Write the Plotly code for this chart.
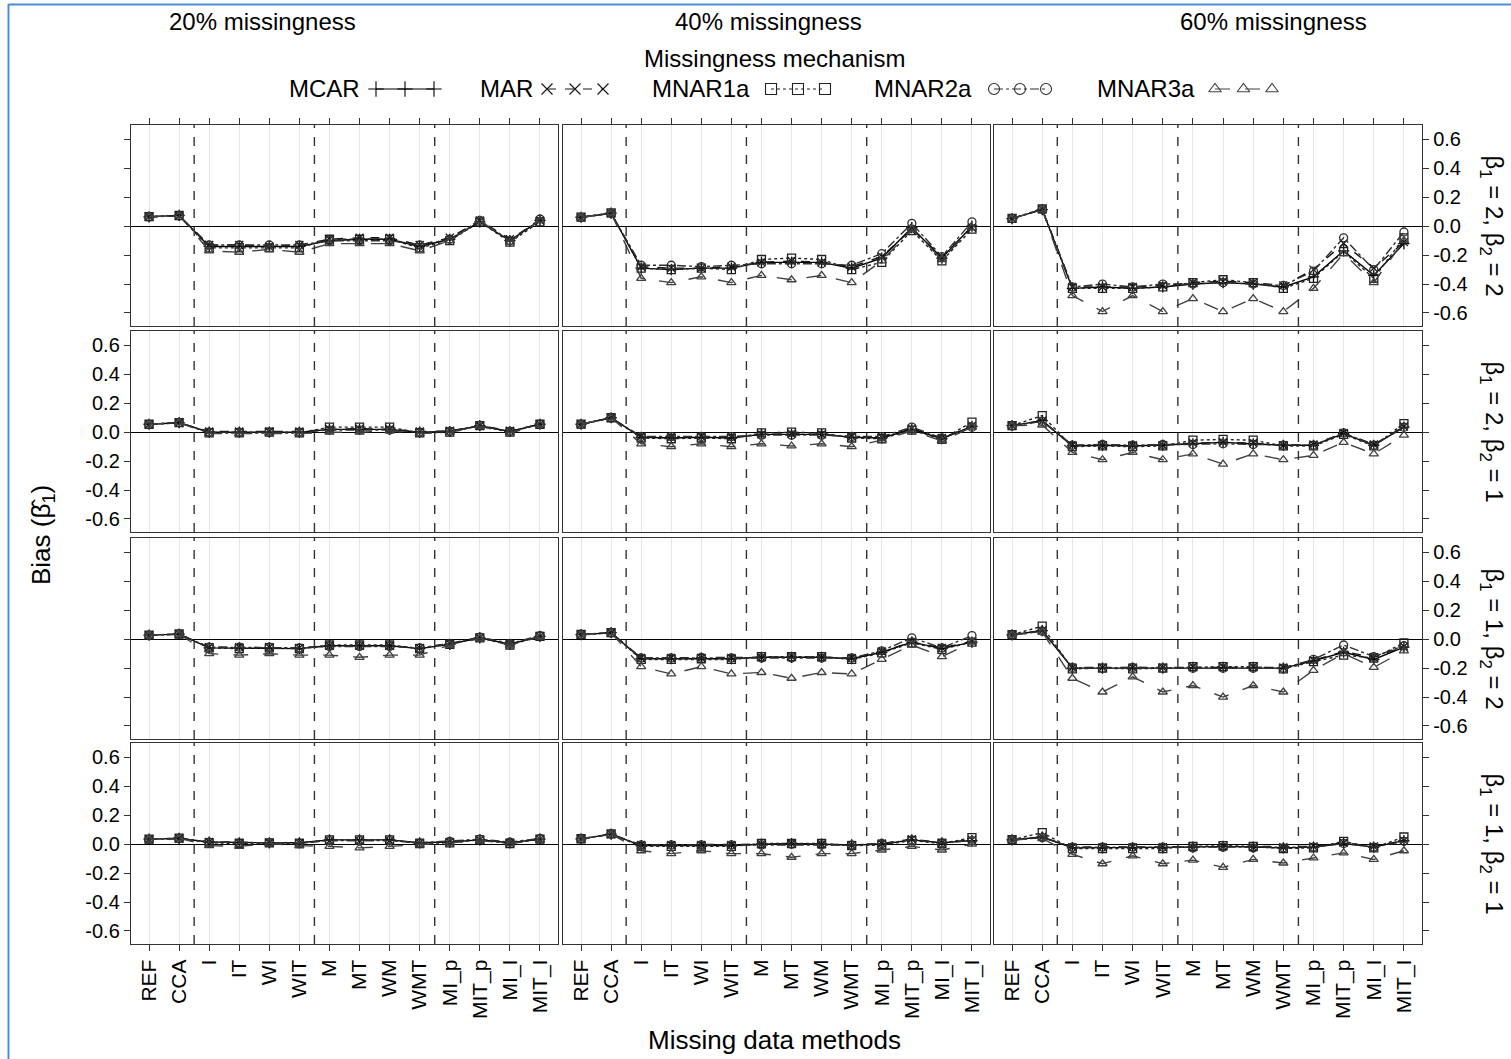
import plotly.graph_objects as go

W, H = 1511, 1059

# ---------------- data ----------------
methods = ["REF", "CCA", "I", "IT", "WI", "WIT", "M", "MT", "WM", "WMT",
           "MI_p", "MIT_p", "MI_I", "MIT_I"]
mechanisms = ["MCAR", "MAR", "MNAR1a", "MNAR2a", "MNAR3a"]
missingness_levels = ["20% missingness", "40% missingness", "60% missingness"]
coef_settings = ["β<sub>1</sub> = 2, β<sub>2</sub> = 2",
                 "β<sub>1</sub> = 2, β<sub>2</sub> = 1",
                 "β<sub>1</sub> = 1, β<sub>2</sub> = 2",
                 "β<sub>1</sub> = 1, β<sub>2</sub> = 1"]
group_breaks = [2.5, 6.5, 10.5]
y_tick_vals = [-0.6, -0.4, -0.2, 0.0, 0.2, 0.4, 0.6]
y_tick_text = ["-0.6", "-0.4", "-0.2", "0.0", "0.2", "0.4", "0.6"]

# beta1=2, beta2=2
b22_p20_MCAR = [0.065, 0.075, -0.14, -0.14, -0.14, -0.14, -0.10, -0.09, -0.09, -0.14, -0.09, 0.03, -0.10, 0.04]
b22_p20_MAR = [0.065, 0.073, -0.13, -0.13, -0.14, -0.13, -0.09, -0.08, -0.08, -0.13, -0.08, 0.04, -0.09, 0.04]
b22_p20_MNAR1a = [0.066, 0.074, -0.15, -0.15, -0.15, -0.15, -0.09, -0.09, -0.09, -0.15, -0.10, 0.03, -0.11, 0.03]
b22_p20_MNAR2a = [0.064, 0.072, -0.13, -0.13, -0.13, -0.13, -0.10, -0.10, -0.10, -0.13, -0.09, 0.04, -0.10, 0.05]
b22_p20_MNAR3a = [0.066, 0.076, -0.17, -0.18, -0.16, -0.18, -0.12, -0.12, -0.12, -0.17, -0.10, 0.04, -0.11, 0.04]

b22_p40_MCAR = [0.062, 0.09, -0.29, -0.30, -0.29, -0.29, -0.25, -0.25, -0.25, -0.29, -0.22, -0.01, -0.22, 0.00]
b22_p40_MAR = [0.062, 0.09, -0.28, -0.29, -0.29, -0.28, -0.25, -0.24, -0.25, -0.28, -0.21, -0.02, -0.21, -0.01]
b22_p40_MNAR1a = [0.063, 0.092, -0.29, -0.30, -0.29, -0.30, -0.23, -0.22, -0.23, -0.30, -0.25, -0.03, -0.24, -0.02]
b22_p40_MNAR2a = [0.061, 0.088, -0.27, -0.27, -0.28, -0.27, -0.26, -0.26, -0.26, -0.27, -0.19, 0.02, -0.21, 0.03]
b22_p40_MNAR3a = [0.062, 0.09, -0.36, -0.39, -0.35, -0.39, -0.34, -0.37, -0.34, -0.39, -0.24, -0.02, -0.23, -0.01]

b22_p60_MCAR = [0.053, 0.115, -0.43, -0.42, -0.43, -0.42, -0.40, -0.39, -0.40, -0.42, -0.35, -0.17, -0.34, -0.12]
b22_p60_MAR = [0.053, 0.117, -0.42, -0.42, -0.42, -0.41, -0.39, -0.38, -0.39, -0.41, -0.30, -0.12, -0.29, -0.11]
b22_p60_MNAR1a = [0.054, 0.12, -0.43, -0.43, -0.43, -0.42, -0.39, -0.37, -0.39, -0.43, -0.36, -0.175, -0.36, -0.08]
b22_p60_MNAR2a = [0.052, 0.116, -0.42, -0.40, -0.42, -0.40, -0.40, -0.39, -0.40, -0.41, -0.31, -0.08, -0.30, -0.04]
b22_p60_MNAR3a = [0.053, 0.115, -0.48, -0.59, -0.48, -0.59, -0.50, -0.59, -0.50, -0.59, -0.43, -0.19, -0.39, -0.10]

# beta1=2, beta2=1
b21_p20_MCAR = [0.055, 0.066, 0.0, 0.0, 0.0, 0.0, 0.02, 0.02, 0.02, 0.0, 0.005, 0.045, 0.005, 0.055]
b21_p20_MAR = [0.054, 0.065, 0.005, 0.005, 0.005, 0.005, 0.02, 0.025, 0.02, 0.005, 0.01, 0.045, 0.01, 0.055]
b21_p20_MNAR1a = [0.055, 0.067, -0.005, -0.005, 0.0, -0.005, 0.035, 0.035, 0.035, -0.005, 0.0, 0.045, 0.0, 0.055]
b21_p20_MNAR2a = [0.054, 0.066, 0.0, 0.0, 0.0, 0.0, 0.015, 0.015, 0.015, 0.0, 0.005, 0.045, 0.005, 0.055]
b21_p20_MNAR3a = [0.055, 0.066, -0.01, -0.01, -0.005, -0.01, 0.0, 0.0, 0.01, -0.01, 0.0, 0.04, -0.005, 0.05]

b21_p40_MCAR = [0.055, 0.10, -0.035, -0.04, -0.035, -0.04, -0.015, -0.015, -0.015, -0.035, -0.04, 0.02, -0.045, 0.04]
b21_p40_MAR = [0.055, 0.10, -0.03, -0.035, -0.03, -0.035, -0.015, -0.01, -0.015, -0.03, -0.035, 0.025, -0.04, 0.045]
b21_p40_MNAR1a = [0.056, 0.10, -0.04, -0.045, -0.04, -0.045, -0.005, 0.0, -0.005, -0.04, -0.045, 0.015, -0.05, 0.07]
b21_p40_MNAR2a = [0.054, 0.098, -0.03, -0.03, -0.03, -0.03, -0.02, -0.02, -0.02, -0.03, -0.03, 0.035, -0.04, 0.035]
b21_p40_MNAR3a = [0.055, 0.10, -0.08, -0.10, -0.08, -0.10, -0.08, -0.095, -0.08, -0.10, -0.055, 0.01, -0.06, 0.035]

b21_p60_MCAR = [0.045, 0.08, -0.095, -0.09, -0.095, -0.09, -0.08, -0.07, -0.08, -0.09, -0.09, -0.01, -0.09, 0.035]
b21_p60_MAR = [0.045, 0.08, -0.09, -0.09, -0.09, -0.09, -0.075, -0.07, -0.075, -0.09, -0.085, -0.005, -0.085, 0.04]
b21_p60_MNAR1a = [0.046, 0.115, -0.10, -0.095, -0.10, -0.095, -0.055, -0.05, -0.055, -0.095, -0.095, -0.015, -0.095, 0.06]
b21_p60_MNAR2a = [0.044, 0.075, -0.09, -0.085, -0.09, -0.085, -0.085, -0.08, -0.085, -0.09, -0.09, -0.005, -0.09, 0.035]
b21_p60_MNAR3a = [0.045, 0.05, -0.14, -0.19, -0.14, -0.19, -0.15, -0.22, -0.15, -0.19, -0.16, -0.07, -0.15, -0.02]

# beta1=1, beta2=2
b12_p20_MCAR = [0.028, 0.035, -0.06, -0.06, -0.06, -0.065, -0.045, -0.045, -0.045, -0.065, -0.035, 0.01, -0.035, 0.02]
b12_p20_MAR = [0.028, 0.035, -0.055, -0.055, -0.055, -0.06, -0.045, -0.045, -0.045, -0.06, -0.03, 0.01, -0.03, 0.02]
b12_p20_MNAR1a = [0.029, 0.036, -0.06, -0.065, -0.06, -0.065, -0.04, -0.04, -0.04, -0.065, -0.035, 0.01, -0.04, 0.02]
b12_p20_MNAR2a = [0.027, 0.034, -0.055, -0.055, -0.055, -0.06, -0.05, -0.05, -0.05, -0.06, -0.03, 0.015, -0.03, 0.025]
b12_p20_MNAR3a = [0.028, 0.035, -0.10, -0.11, -0.10, -0.11, -0.11, -0.125, -0.11, -0.11, -0.04, 0.005, -0.04, 0.015]

b12_p40_MCAR = [0.032, 0.045, -0.135, -0.135, -0.13, -0.135, -0.125, -0.125, -0.125, -0.135, -0.09, -0.02, -0.065, -0.02]
b12_p40_MAR = [0.032, 0.045, -0.13, -0.13, -0.13, -0.13, -0.125, -0.12, -0.125, -0.13, -0.085, -0.02, -0.06, -0.015]
b12_p40_MNAR1a = [0.033, 0.046, -0.14, -0.14, -0.135, -0.14, -0.12, -0.12, -0.12, -0.14, -0.095, -0.025, -0.07, -0.02]
b12_p40_MNAR2a = [0.031, 0.044, -0.13, -0.13, -0.125, -0.13, -0.13, -0.13, -0.13, -0.13, -0.08, 0.01, -0.06, 0.025]
b12_p40_MNAR3a = [0.032, 0.045, -0.19, -0.24, -0.19, -0.24, -0.23, -0.27, -0.23, -0.24, -0.14, -0.04, -0.12, -0.02]

b12_p60_MCAR = [0.03, 0.06, -0.20, -0.20, -0.20, -0.20, -0.195, -0.195, -0.195, -0.20, -0.15, -0.09, -0.14, -0.055]
b12_p60_MAR = [0.03, 0.06, -0.195, -0.195, -0.195, -0.195, -0.19, -0.19, -0.19, -0.195, -0.145, -0.085, -0.125, -0.05]
b12_p60_MNAR1a = [0.031, 0.09, -0.205, -0.20, -0.205, -0.20, -0.19, -0.19, -0.19, -0.205, -0.155, -0.11, -0.13, -0.025]
b12_p60_MNAR2a = [0.029, 0.055, -0.195, -0.20, -0.195, -0.20, -0.20, -0.20, -0.20, -0.20, -0.14, -0.04, -0.12, -0.045]
b12_p60_MNAR3a = [0.03, 0.05, -0.27, -0.365, -0.26, -0.365, -0.32, -0.40, -0.32, -0.365, -0.215, -0.10, -0.195, -0.08]

# beta1=1, beta2=1
b11_p20_MCAR = [0.035, 0.04, 0.015, 0.01, 0.01, 0.01, 0.03, 0.03, 0.03, 0.01, 0.015, 0.03, 0.01, 0.035]
b11_p20_MAR = [0.034, 0.04, 0.015, 0.01, 0.01, 0.01, 0.025, 0.025, 0.025, 0.01, 0.015, 0.03, 0.01, 0.035]
b11_p20_MNAR1a = [0.035, 0.042, 0.01, 0.005, 0.01, 0.005, 0.03, 0.03, 0.03, 0.005, 0.01, 0.03, 0.005, 0.035]
b11_p20_MNAR2a = [0.034, 0.04, 0.015, 0.01, 0.01, 0.01, 0.025, 0.025, 0.025, 0.01, 0.02, 0.035, 0.015, 0.04]
b11_p20_MNAR3a = [0.035, 0.04, -0.01, -0.015, 0.005, -0.01, -0.015, -0.025, -0.015, -0.005, 0.01, 0.025, 0.005, 0.03]

b11_p40_MCAR = [0.037, 0.07, -0.01, -0.01, -0.01, -0.01, 0.0, 0.005, 0.0, -0.005, 0.0, 0.03, 0.01, 0.025]
b11_p40_MAR = [0.037, 0.07, -0.005, -0.005, -0.005, -0.005, 0.0, 0.005, 0.0, -0.005, 0.005, 0.035, 0.01, 0.03]
b11_p40_MNAR1a = [0.038, 0.071, -0.015, -0.015, -0.015, -0.015, 0.005, 0.005, 0.005, -0.01, -0.005, 0.025, 0.005, 0.045]
b11_p40_MNAR2a = [0.036, 0.069, -0.005, -0.005, -0.005, -0.005, -0.005, 0.0, -0.005, -0.005, 0.005, 0.03, 0.01, 0.025]
b11_p40_MNAR3a = [0.037, 0.07, -0.045, -0.065, -0.045, -0.065, -0.065, -0.09, -0.065, -0.065, -0.04, -0.015, -0.04, 0.0]

b11_p60_MCAR = [0.03, 0.05, -0.025, -0.025, -0.025, -0.025, -0.02, -0.015, -0.02, -0.025, -0.02, 0.005, -0.02, 0.025]
b11_p60_MAR = [0.03, 0.05, -0.02, -0.02, -0.02, -0.02, -0.02, -0.015, -0.02, -0.02, -0.015, 0.01, -0.015, 0.025]
b11_p60_MNAR1a = [0.031, 0.08, -0.03, -0.03, -0.03, -0.03, -0.015, -0.01, -0.015, -0.03, -0.025, 0.02, -0.025, 0.05]
b11_p60_MNAR2a = [0.029, 0.045, -0.02, -0.02, -0.02, -0.02, -0.025, -0.02, -0.025, -0.025, -0.02, 0.005, -0.02, 0.02]
b11_p60_MNAR3a = [0.03, 0.04, -0.07, -0.135, -0.08, -0.135, -0.11, -0.16, -0.105, -0.13, -0.095, -0.06, -0.105, -0.045]

panel_data = [
    [[b22_p20_MCAR, b22_p20_MAR, b22_p20_MNAR1a, b22_p20_MNAR2a, b22_p20_MNAR3a],
     [b22_p40_MCAR, b22_p40_MAR, b22_p40_MNAR1a, b22_p40_MNAR2a, b22_p40_MNAR3a],
     [b22_p60_MCAR, b22_p60_MAR, b22_p60_MNAR1a, b22_p60_MNAR2a, b22_p60_MNAR3a]],
    [[b21_p20_MCAR, b21_p20_MAR, b21_p20_MNAR1a, b21_p20_MNAR2a, b21_p20_MNAR3a],
     [b21_p40_MCAR, b21_p40_MAR, b21_p40_MNAR1a, b21_p40_MNAR2a, b21_p40_MNAR3a],
     [b21_p60_MCAR, b21_p60_MAR, b21_p60_MNAR1a, b21_p60_MNAR2a, b21_p60_MNAR3a]],
    [[b12_p20_MCAR, b12_p20_MAR, b12_p20_MNAR1a, b12_p20_MNAR2a, b12_p20_MNAR3a],
     [b12_p40_MCAR, b12_p40_MAR, b12_p40_MNAR1a, b12_p40_MNAR2a, b12_p40_MNAR3a],
     [b12_p60_MCAR, b12_p60_MAR, b12_p60_MNAR1a, b12_p60_MNAR2a, b12_p60_MNAR3a]],
    [[b11_p20_MCAR, b11_p20_MAR, b11_p20_MNAR1a, b11_p20_MNAR2a, b11_p20_MNAR3a],
     [b11_p40_MCAR, b11_p40_MAR, b11_p40_MNAR1a, b11_p40_MNAR2a, b11_p40_MNAR3a],
     [b11_p60_MCAR, b11_p60_MAR, b11_p60_MNAR1a, b11_p60_MNAR2a, b11_p60_MNAR3a]],
]

# ---------------- styles / layout geometry ----------------
FONT = "Liberation Sans, Arial, sans-serif"
styles = {
    "MCAR":   dict(dash="solid",    symbol="cross-thin-open",  color="#000000"),
    "MAR":    dict(dash="dash",     symbol="x-thin-open",      color="#141414"),
    "MNAR1a": dict(dash="dot",      symbol="square-open",      color="#222222"),
    "MNAR2a": dict(dash="dashdot",  symbol="circle-open",      color="#2e2e2e"),
    "MNAR3a": dict(dash="longdash", symbol="triangle-up-open", color="#404040"),
}

col_px = [(131, 558), (563, 990), (994, 1422)]
row_px = [(125, 326), (331, 532), (538, 739), (743, 944)]


def px_x(p):
    return p / W


def px_y(p):
    return 1 - p / H


fig = go.Figure()
layout_axes = {}
shapes = []
x_positions = list(range(1, len(methods) + 1))

for r in range(4):
    for c in range(3):
        k = r * 3 + c + 1
        xs = "" if k == 1 else str(k)
        for mi, mech in enumerate(mechanisms):
            st = styles[mech]
            fig.add_trace(go.Scatter(
                x=x_positions, y=panel_data[r][c][mi],
                mode="lines+markers",
                line=dict(color=st["color"], width=1.4, dash=st["dash"]),
                marker=dict(symbol=st["symbol"], size=8, color=st["color"],
                            line=dict(color=st["color"], width=1.3)),
                xaxis="x" + xs, yaxis="y" + xs, showlegend=False,
                name=mech, hoverinfo="x+y+name"))

        xa = dict(domain=[px_x(col_px[c][0]), px_x(col_px[c][1])],
                  anchor="y" + xs, range=[0.4, 14.6],
                  tickmode="array", tickvals=x_positions, ticktext=methods,
                  showgrid=True, gridcolor="#e6e6e6", gridwidth=1,
                  zeroline=False, showline=True, mirror=True,
                  linecolor="#333333", linewidth=1.4,
                  tickfont=dict(family=FONT, size=21, color="#000000"),
                  ticklen=6, tickcolor="#333333", tickwidth=1)
        if r == 0:
            xa.update(side="top", ticks="outside", showticklabels=False)
        elif r == 3:
            xa.update(side="bottom", ticks="outside", showticklabels=True, tickangle=-90)
        else:
            xa.update(ticks="", showticklabels=False)

        ya = dict(domain=[px_y(row_px[r][1]), px_y(row_px[r][0])],
                  anchor="x" + xs, range=[-0.69, 0.70],
                  tickmode="array", tickvals=y_tick_vals, ticktext=y_tick_text,
                  showgrid=False, zeroline=True, zerolinecolor="#000000",
                  zerolinewidth=1.2, showline=True, mirror=True,
                  linecolor="#333333", linewidth=1.4,
                  tickfont=dict(family=FONT, size=20, color="#000000"),
                  ticklen=6, tickcolor="#333333", tickwidth=1)
        if c == 0:
            ya.update(side="left", ticks="outside", showticklabels=(r % 2 == 1))
        elif c == 2:
            ya.update(side="right", ticks="outside", showticklabels=(r % 2 == 0))
        else:
            ya.update(ticks="", showticklabels=False)

        layout_axes["xaxis" + xs] = xa
        layout_axes["yaxis" + xs] = ya

        for gb in group_breaks:
            shapes.append(dict(type="line", xref="x" + xs, yref="y" + xs + " domain",
                               x0=gb, x1=gb, y0=0, y1=1,
                               line=dict(color="#333333", width=1.4, dash="dash")))

# ---------------- custom legend ----------------
legend_text_right = [362, 535, 752, 974, 1197]
legend_key_span = [(372, 438), (543, 607), (767, 829), (990, 1050), (1211, 1276)]
legend_y = 89
layout_axes["xaxis13"] = dict(domain=[0, 1], range=[0, W], visible=False, anchor="y13",
                              fixedrange=True)
layout_axes["yaxis13"] = dict(domain=[px_y(legend_y + 12), px_y(legend_y - 12)],
                              range=[0, 1], visible=False, anchor="x13", fixedrange=True)
for mi, mech in enumerate(mechanisms):
    st = styles[mech]
    a, b = legend_key_span[mi]
    fig.add_trace(go.Scatter(
        x=[a + 4, (a + b) / 2, b - 4], y=[0.5, 0.5, 0.5],
        mode="lines+markers",
        line=dict(color=st["color"], width=1.2, dash=st["dash"]),
        marker=dict(symbol=st["symbol"], size=11, color=st["color"],
                    line=dict(color=st["color"], width=1.1)),
        xaxis="x13", yaxis="y13", showlegend=False, hoverinfo="skip"))

annotations = []
for mi, mech in enumerate(mechanisms):
    annotations.append(dict(text=mech, x=px_x(legend_text_right[mi]), y=px_y(legend_y),
                            xref="paper", yref="paper", xanchor="right", yanchor="middle",
                            showarrow=False, font=dict(family=FONT, size=24, color="#000")))
annotations.append(dict(text="Missingness mechanism", x=px_x(775), y=px_y(58),
                        xref="paper", yref="paper", xanchor="center", yanchor="middle",
                        showarrow=False, font=dict(family=FONT, size=24, color="#000")))

strip_centers = [262, 769, 1273]
for ci, lab in enumerate(missingness_levels):
    annotations.append(dict(text=lab, x=px_x(strip_centers[ci]), y=px_y(22),
                            xref="paper", yref="paper", xanchor="center", yanchor="middle",
                            showarrow=False, font=dict(family=FONT, size=24, color="#000")))

for ri, lab in enumerate(coef_settings):
    cy = (row_px[ri][0] + row_px[ri][1]) / 2
    annotations.append(dict(text=lab, x=px_x(1492), y=px_y(cy), textangle=90,
                            xref="paper", yref="paper", xanchor="center", yanchor="middle",
                            showarrow=False, font=dict(family=FONT, size=24, color="#000")))

annotations.append(dict(text="Bias (β\u0302<sub>1</sub>)", x=px_x(42), y=px_y(535),
                        textangle=-90, xref="paper", yref="paper",
                        xanchor="center", yanchor="middle", showarrow=False,
                        font=dict(family=FONT, size=26, color="#000")))
annotations.append(dict(text="Missing data methods", x=px_x(775), y=px_y(1040),
                        xref="paper", yref="paper", xanchor="center", yanchor="middle",
                        showarrow=False, font=dict(family=FONT, size=26, color="#000")))

# blue outer frame
shapes.append(dict(type="line", xref="paper", yref="paper",
                   x0=px_x(8.5), x1=px_x(8.5), y0=px_y(4), y1=-0.02,
                   line=dict(color="#4a8fd6", width=2)))
shapes.append(dict(type="line", xref="paper", yref="paper",
                   x0=px_x(8.5), x1=1.02, y0=px_y(4.5), y1=px_y(4.5),
                   line=dict(color="#4a8fd6", width=2)))

fig.update_layout(width=W, height=H, autosize=False,
                  margin=dict(l=0, r=0, t=0, b=0),
                  paper_bgcolor="white", plot_bgcolor="white",
                  showlegend=False, shapes=shapes, annotations=annotations,
                  font=dict(family=FONT, color="#000"),
                  **layout_axes)

fig.write_html("out.html")
